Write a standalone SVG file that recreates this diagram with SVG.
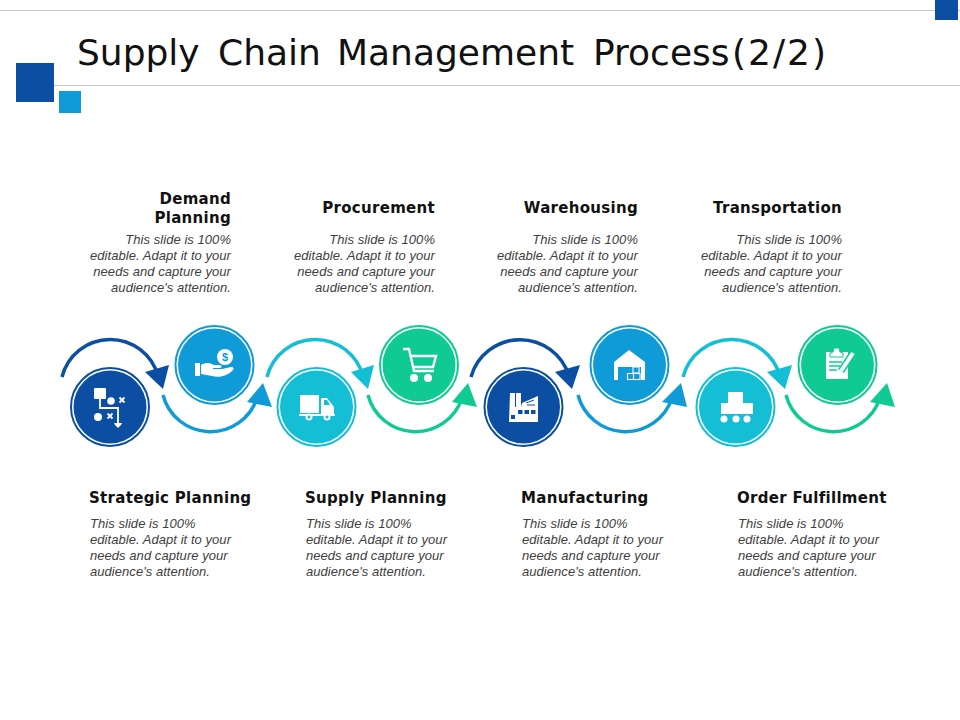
<svg xmlns="http://www.w3.org/2000/svg" width="960" height="720" viewBox="0 0 960 720">
<style>
.h{font-family:"DejaVu Sans",Verdana,sans-serif;font-weight:700;font-size:15px;letter-spacing:.3px;fill:#111}
.b{font-family:"Liberation Sans",Arial,sans-serif;font-style:italic;font-size:13px;letter-spacing:.05px;fill:#404040}
.e{text-anchor:end}
.r{fill:none;stroke-width:2}
.a{fill:none;stroke-width:3.5}
.i{fill:#fff}
.d{fill:#0b4ea2}.m{fill:#0f9ad8}.t{fill:#14bfd6}.g{fill:#0fcb93}
.ds{stroke:#0b4ea2}.ms{stroke:#0f9ad8}.ts{stroke:#14bfd6}.gs{stroke:#0fcb93}
</style>
<rect width="960" height="720" fill="#fff"/>
<g id="frame">
<path d="M0 10.500H960M54 85.500H960" stroke="#c8c8c8" stroke-width="1" fill="none"/>
<rect x="935" y="0" width="23" height="20" class="d"/>
<rect x="16" y="63" width="38" height="39" class="d"/>
<rect x="59" y="91" width="22" height="22" class="m"/>
<text id="title" y="65" font-family="DejaVu Sans, Verdana, sans-serif" font-size="36" fill="#111"><tspan x="77">Supply</tspan> <tspan x="218">Chain</tspan> <tspan x="337">Management</tspan> <tspan x="593">Process</tspan><tspan x="732" letter-spacing="2">(2/2)</tspan></text>
</g>
<g id="connectors">
<path class="a ds" d="M62 377A49.600 49.600 0 0 1 158 376"/><polygon class="d" points="169,365 145,372 163,389"/>
<path class="a ms" d="M163 395A49 49 0 0 0 257 398"/><polygon class="m" points="263,383 247,402 272,407"/>
<path class="a ts" d="M267 377A49.600 49.600 0 0 1 363 376"/><polygon class="t" points="374,365 351,372 368,389"/>
<path class="a gs" d="M368 395A49 49 0 0 0 462 398"/><polygon class="g" points="468,383 452,402 477,407"/>
<path class="a ds" d="M471 377A51 51 0 0 1 569 376"/><polygon class="d" points="580,365 555,372 572,389"/>
<path class="a ms" d="M578 395A49 49 0 0 0 672 398"/><polygon class="m" points="681,383 662,402 687,407"/>
<path class="a ts" d="M683 377A50.300 50.300 0 0 1 780 376"/><polygon class="t" points="792,365 767,372 785,389"/>
<path class="a gs" d="M786 395A49 49 0 0 0 880 398"/><polygon class="g" points="887,383 870,402 895,407"/>
</g>
<g id="node-strategic-planning">
<circle cx="110" cy="407" r="39" class="r ds"/><circle cx="110" cy="407" r="36.500" class="d"/>
<g class="i"><rect x="94" y="388" width="12" height="11" rx="1"/><circle cx="111" cy="401" r="3.800"/><circle cx="98" cy="417" r="4"/><path d="M114 423h8l-1 2-3 3-3-3z"/></g>
<path d="M100 398v10h18v15" fill="none" stroke="#fff" stroke-width="1.800"/>
<path d="M119.500 397.500l5 5M124.500 397.500l-5 5M107.500 413.500l5 5M112.500 413.500l-5 5" fill="none" stroke="#fff" stroke-width="1.800"/>
</g>
<g id="node-demand-planning">
<circle cx="214.500" cy="365" r="39" class="r ms"/><circle cx="214.500" cy="365" r="36.500" class="m"/>
<g class="i"><circle cx="225" cy="357" r="8"/><rect x="195" y="363" width="5" height="13"/>
<path d="M201 365c5-3 9-2 13 0h6c2 0 2 3 0 3h-7v1h9l9-2c3 0 3 2 2 3-5 6-14 8-21 6l-11-2z"/></g>
<text x="225" y="361" text-anchor="middle" font-family="Liberation Sans, sans-serif" font-weight="700" font-size="11" fill="#0f9ad8">$</text>
</g>
<g id="node-supply-planning">
<circle cx="316.500" cy="407" r="39" class="r ts"/><circle cx="316.500" cy="407" r="36.500" class="t"/>
<g class="i"><rect x="300" y="395" width="19" height="18"/><path d="M321 398h6l7 9v7h-13z"/><rect x="299" y="414" width="36" height="2"/><circle cx="309" cy="417" r="3.500"/><circle cx="327" cy="417" r="3.500"/></g>
<circle cx="309" cy="417" r="1.500" class="t"/><circle cx="327" cy="417" r="1.500" class="t"/><path d="M324 400h3l3 5h-6z" class="t"/>
</g>
<g id="node-procurement">
<circle cx="419" cy="365" r="39" class="r gs"/><circle cx="419" cy="365" r="36.500" class="g"/>
<path d="M403 349h6l5 22h20M410 356h26l-3 11h-21" fill="none" stroke="#fff" stroke-width="2.400"/>
<circle class="i" cx="414" cy="378" r="4"/><circle class="i" cx="428" cy="378" r="4"/>
</g>
<g id="node-manufacturing">
<circle cx="523.500" cy="407" r="39" class="r ds"/><circle cx="523.500" cy="407" r="36.500" class="d"/>
<path class="i" d="M510 393h5v14h1v-14h5v14l1-4 16-7v26h-29z"/>
<g class="d"><rect x="518" y="410" width="4.500" height="4"/><rect x="524.500" y="410" width="4.500" height="4"/><rect x="531" y="410" width="4.500" height="4"/><rect x="511" y="415" width="4" height="4"/></g>
<path d="M526 403l8-3M527 405h8" stroke="#0b4ea2" stroke-width="1" fill="none"/>
</g>
<g id="node-warehousing">
<circle cx="629.500" cy="365" r="39" class="r ms"/><circle cx="629.500" cy="365" r="36.500" class="m"/>
<path class="i" d="M614 380v-18l15-12 16 12v18h-4v-13h-23v13z"/>
<g fill="none" stroke="#fff" stroke-width="1.100"><rect x="633" y="367" width="6" height="6"/><rect x="627.500" y="373.500" width="6" height="6"/><rect x="633.500" y="373.500" width="6.500" height="6"/></g>
</g>
<g id="node-order-fulfillment">
<circle cx="735.500" cy="407" r="39" class="r ts"/><circle cx="735.500" cy="407" r="36.500" class="t"/>
<path class="i" d="M728 392h15v11h10v11h-32v-11h7z"/>
<g class="i"><circle cx="724" cy="419" r="3.500"/><circle cx="736" cy="419" r="3.500"/><circle cx="747" cy="419" r="3.500"/></g>
</g>
<g id="node-transportation">
<circle cx="837.500" cy="365" r="39" class="r gs"/><circle cx="837.500" cy="365" r="36.500" class="g"/>
<rect class="i" x="826" y="352" width="22" height="27"/>
<path class="i" d="M830 357v-4l3-1 1-4h5l1 4 3 1v4z" stroke="#0fcb93" stroke-width="1"/>
<path d="M829 362h13M829 366h11M829 370h8" stroke="#0fcb93" stroke-width="1.300" fill="none"/>
<path d="M853 353l-12 18" stroke="#0fcb93" stroke-width="7" fill="none"/>
<path d="M853 353l-12 18" stroke="#fff" stroke-width="4" fill="none"/>
<path class="i" d="M839 370l4 3-5 2z"/>
</g>
<g id="labels-top">
<text class="h e" x="231" y="203.500">Demand</text><text class="h e" x="231" y="222.500">Planning</text>
<text class="b e"><tspan x="231" y="244">This slide is 100%</tspan><tspan x="231" y="260">editable. Adapt it to your</tspan><tspan x="231" y="276">needs and capture your</tspan><tspan x="231" y="292">audience's attention.</tspan></text>
<text class="h e" x="435" y="212.500">Procurement</text>
<text class="b e"><tspan x="435" y="244">This slide is 100%</tspan><tspan x="435" y="260">editable. Adapt it to your</tspan><tspan x="435" y="276">needs and capture your</tspan><tspan x="435" y="292">audience's attention.</tspan></text>
<text class="h e" x="638" y="212.500">Warehousing</text>
<text class="b e"><tspan x="638" y="244">This slide is 100%</tspan><tspan x="638" y="260">editable. Adapt it to your</tspan><tspan x="638" y="276">needs and capture your</tspan><tspan x="638" y="292">audience's attention.</tspan></text>
<text class="h e" x="842" y="212.500">Transportation</text>
<text class="b e"><tspan x="842" y="244">This slide is 100%</tspan><tspan x="842" y="260">editable. Adapt it to your</tspan><tspan x="842" y="276">needs and capture your</tspan><tspan x="842" y="292">audience's attention.</tspan></text>
</g>
<g id="labels-bottom">
<text class="h" x="89" y="502.500">Strategic Planning</text>
<text class="b"><tspan x="90" y="528">This slide is 100%</tspan><tspan x="90" y="544">editable. Adapt it to your</tspan><tspan x="90" y="560">needs and capture your</tspan><tspan x="90" y="576">audience's attention.</tspan></text>
<text class="h" x="305" y="502.500">Supply Planning</text>
<text class="b"><tspan x="306" y="528">This slide is 100%</tspan><tspan x="306" y="544">editable. Adapt it to your</tspan><tspan x="306" y="560">needs and capture your</tspan><tspan x="306" y="576">audience's attention.</tspan></text>
<text class="h" x="521" y="502.500">Manufacturing</text>
<text class="b"><tspan x="522" y="528">This slide is 100%</tspan><tspan x="522" y="544">editable. Adapt it to your</tspan><tspan x="522" y="560">needs and capture your</tspan><tspan x="522" y="576">audience's attention.</tspan></text>
<text class="h" x="737" y="502.500">Order Fulfillment</text>
<text class="b"><tspan x="738" y="528">This slide is 100%</tspan><tspan x="738" y="544">editable. Adapt it to your</tspan><tspan x="738" y="560">needs and capture your</tspan><tspan x="738" y="576">audience's attention.</tspan></text>
</g>
</svg>
